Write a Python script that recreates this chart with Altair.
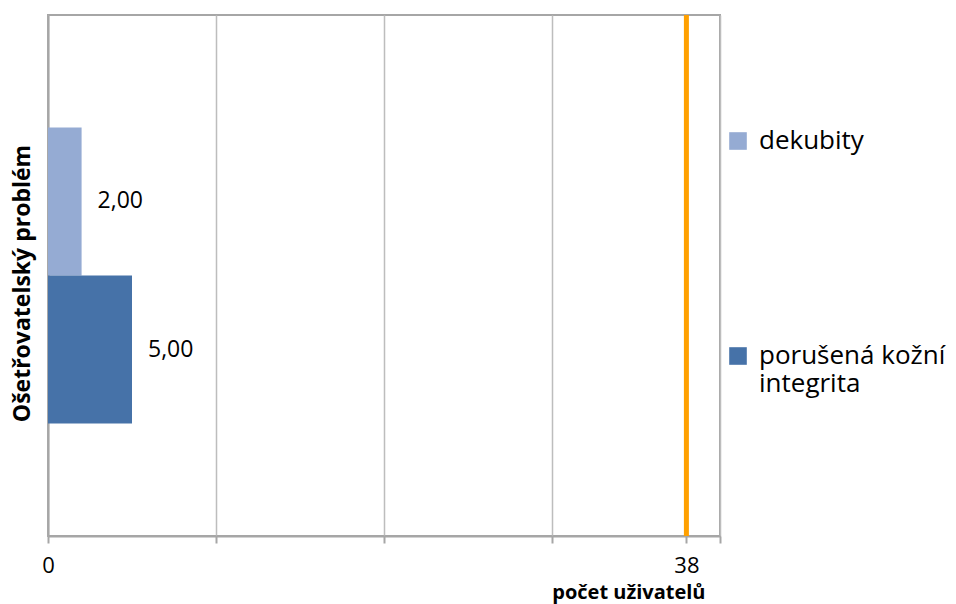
import altair as alt
import pandas as pd

# Number of clients with each nursing problem
series = ["dekubity", "porušená kožní integrita"]
counts = [2, 5]
group = "Ošetřovatelský problém"
total_clients = 38

colors = ["#95abd3", "#4672a8"]
font = "Open Sans"

bars_df = pd.DataFrame({"problem": series, "count": counts, "group": [group] * len(series)})
total_df = pd.DataFrame({"total": [total_clients]})

x_scale = alt.Scale(domain=[0, 40], nice=False, zero=True)
y_enc = alt.Y(
    "group:N",
    scale=alt.Scale(paddingInner=0, paddingOuter=0.38),
    axis=alt.Axis(
        title=group,
        labels=False,
        ticks=False,
        domainColor="#a6a6a6",
        domainWidth=2,
        titleFont=font,
        titleFontSize=23,
        titleFontWeight="bold",
        titleColor="#000000",
        titlePadding=14,
        titleY=268,
    ),
)
y_off = alt.YOffset("problem:N", sort=series, scale=alt.Scale(paddingInner=0, paddingOuter=0))

bars = alt.Chart(bars_df).mark_bar().encode(
    x=alt.X(
        "count:Q",
        scale=x_scale,
        axis=alt.Axis(
            values=[0, 10, 20, 30, 38, 40],
            labelExpr="datum.value == 0 || datum.value == 38 ? datum.value : ''",
            labelFlush=False,
            grid=True,
            gridColor="#bdbdbd",
            gridWidth=1.5,
            domainColor="#a6a6a6",
            domainWidth=2,
            tickColor="#a6a6a6",
            tickWidth=2,
            tickSize=7,
            labelFont=font,
            labelFontSize=22,
            labelColor="#000000",
            labelPadding=12,
            title="počet uživatelů",
            titleFont=font,
            titleFontSize=20,
            titleFontWeight="bold",
            titleColor="#000000",
            titleAnchor="end",
            titleAlign="right",
            titleX=657,
            titleY=56,
            titleBaseline="middle",
        ),
    ),
    y=y_enc,
    yOffset=y_off,
    color=alt.Color(
        "problem:N",
        sort=series,
        scale=alt.Scale(domain=series, range=colors),
        legend=alt.Legend(
            title=None,
            orient="none",
            legendX=677,
            legendY=113,
            symbolType="square",
            symbolSize=310,
            symbolStrokeWidth=0,
            labelFont=font,
            labelFontSize=26,
            labelColor="#000000",
            labelLimit=400,
            labelOffset=8,
            rowPadding=189,
            labelExpr="datum.label == 'porušená kožní integrita' ? ['porušená kožní', 'integrita'] : datum.label",
        ),
    ),
)

labels = alt.Chart(bars_df).transform_calculate(
    txt="replace(format(datum.count, '.2f'), '.', ',')"
).mark_text(align="left", baseline="middle", dx=16, font=font, fontSize=23, color="#000000").encode(
    x=alt.X("count:Q", scale=x_scale),
    y=y_enc,
    yOffset=y_off,
    text="txt:N",
)

total_line = alt.Chart(total_df).mark_rule(color="#ffa000", strokeWidth=5).encode(
    x=alt.X("total:Q", scale=x_scale)
)

chart = (
    alt.layer(bars, labels, total_line)
    .properties(
        width=672,
        height=521,
        autosize=alt.AutoSizeParams(type="none"),
        padding={"left": 48, "top": 15, "right": 236, "bottom": 68},
        background="#ffffff",
    )
    .configure_view(stroke="#a6a6a6", strokeWidth=2)
)

chart.save("out.html", embed_options={"renderer": "svg", "actions": False})
